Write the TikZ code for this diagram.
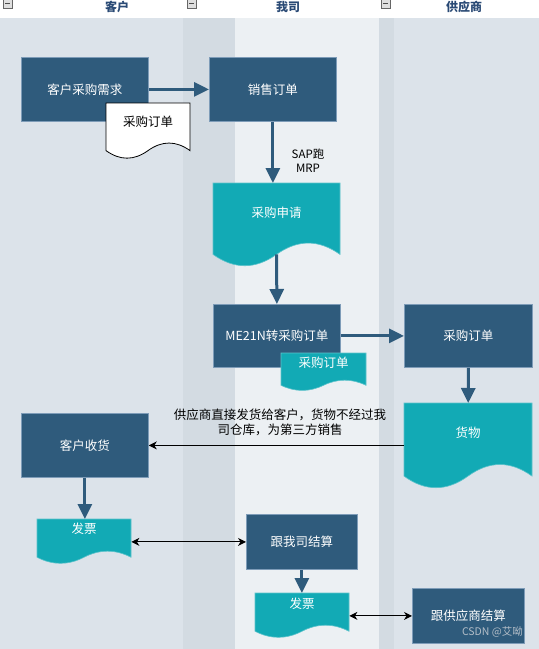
\documentclass[tikz,border=0pt]{standalone}
\usepackage{fontspec}
\setmainfont{Noto Sans CJK SC}
\usetikzlibrary{arrows.meta}
\definecolor{boxblue}{HTML}{2F5B7C}
\definecolor{boxedge}{HTML}{7E9CB8}
\definecolor{docteal}{HTML}{12AAB5}
\definecolor{tealedge}{HTML}{5CC3CB}
\definecolor{laneA}{HTML}{DCE3EA}
\definecolor{laneB}{HTML}{D3DBE2}
\definecolor{laneC}{HTML}{ECF0F3}
\definecolor{headtext}{HTML}{2A4A75}
\definecolor{wmgray}{HTML}{B4BEC8}
\tikzset{
  box/.style={draw=boxedge, fill=boxblue, line width=0.8pt, text=white, inner sep=0pt, anchor=north west, font=\fontsize{12.5}{15}\selectfont},
  docfill/.style={fill=docteal, draw=tealedge, line width=0.6pt},
  doctext/.style={text=white, inner sep=0pt, font=\fontsize{12.5}{15}\selectfont},
  lbl/.style={text=black, inner sep=0pt, align=center, font=\fontsize{12.5}{15}\selectfont},
  headlbl/.style={text=headtext, inner sep=0pt, font=\fontsize{12}{14}\selectfont\bfseries},
  flowarrow/.style={draw=boxblue, line width=3pt, -{Triangle[length=15pt,width=14pt]}},
  thinarrow/.style={draw=black, line width=1pt, -{Stealth[length=8pt,width=8pt,inset=2.5pt]}},
  dblarrow/.style={draw=black, line width=1pt, {Stealth[length=8pt,width=8pt,inset=2.5pt]}-{Stealth[length=8pt,width=8pt,inset=2.5pt]}},
}
\newcommand\docshape[6]{%
  \path[#6] (#2,#3) -- ({#2+#4},#3) -- ({#2+#4},{#3+#5-0.15*#5})
    .. controls ({#2+5*#4/6},{#3+#5-0.33*#5}) and ({#2+2*#4/3},{#3+#5-0.33*#5}) .. ({#2+#4/2},{#3+#5-0.15*#5})
    .. controls ({#2+#4/3},{#3+#5+0.03*#5}) and ({#2+#4/6},{#3+#5+0.03*#5}) .. (#2,{#3+#5-0.15*#5}) -- cycle;
  \node[inner sep=0pt, minimum width=#4, minimum height=#5, anchor=north west] (#1) at (#2,#3) {};
  \coordinate (#1b) at ({#2+#4/2},{#3+#5-0.15*#5});
}
\begin{document}
\begin{tikzpicture}[x=1pt,y=-1pt]
\useasboundingbox (0,0) rectangle (539,649);
% lanes
\fill[white] (0,0) rectangle (539,18);
\fill[laneA] (0,18) rectangle (183,649);
\fill[laneB] (183,18) rectangle (235,649);
\fill[laneC] (235,18) rectangle (379,649);
\fill[laneB] (379,18) rectangle (394,649);
\fill[laneA] (394,18) rectangle (539,649);
% header icons
\foreach \x in {3,187,381} {
  \draw[draw=gray!80!black, fill=gray!25, line width=0.6pt] (\x,-1) rectangle ({\x+9},8);
  \draw[black!70, line width=0.8pt] ({\x+2},3.5) -- ({\x+7},3.5);
}
\node[headlbl] (hA) at (117,6.5) {客户};
\node[headlbl] (hB) at (288,6.5) {我司};
\node[headlbl] (hC) at (464,6.5) {供应商};
% row 1
\node[box, minimum width=127, minimum height=64] (need) at (21,57) {客户采购需求};
\node[box, minimum width=127, minimum height=64] (so) at (209,57) {销售订单};
\docshape{poW}{106}{103}{84}{56}{fill=white, draw=black, line width=0.8pt}
\node[lbl] (poWt) at (148,122) {采购订单};
\docshape{pr}{213}{183}{127}{84}{docfill}
\node[doctext] (prt) at (276.5,213) {采购申请};
% row 2
\node[box, minimum width=127, minimum height=63] (me) at (213,304) {ME21N转采购订单};
\docshape{poT}{281}{353}{85}{38}{docfill}
\node[doctext] (poTt) at (323.5,363) {采购订单};
\node[box, minimum width=128, minimum height=63] (po) at (404,304) {采购订单};
\docshape{goods}{404}{403}{128}{86}{docfill}
\node[doctext] (goodst) at (468,433) {货物};
% row 3
\node[box, minimum width=127, minimum height=64] (kh) at (21,413) {客户收货};
\docshape{fpA}{37}{519}{94}{45}{docfill}
\node[doctext] (fpAt) at (84,529) {发票};
\node[box, minimum width=111, minimum height=55] (jsA) at (246,514) {跟我司结算};
\docshape{fpB}{255}{593}{94}{45}{docfill}
\node[doctext] (fpBt) at (302,604) {发票};
\node[box, minimum width=112, minimum height=55] (jsB) at (412,588) {跟供应商结算};
% labels
\node[lbl, font=\fontsize{11.5}{14}\selectfont] (sap) at (308,161) {SAP跑\\MRP};
\node[lbl] (note) at (280,422) {供应商直接发货给客户，货物不经过我\\司仓库，为第三方销售};
\node[anchor=east, inner sep=0pt, text=wmgray, font=\fontsize{10.5}{12}\selectfont] (wm) at (523,632) {CSDN @艾呦};
% connectors
\draw[flowarrow] (need) -- (so);
\draw[flowarrow] (so.south) -- (so.south |- pr.north);
\draw[flowarrow] (prb) -- (me.north);
\draw[flowarrow] (me) -- (po);
\draw[flowarrow] (po.south) -- (goods.north);
\draw[thinarrow] (goods.west |- kh.east) -- (kh.east);
\draw[flowarrow] (kh.south) -- (kh.south |- fpA.north);
\draw[dblarrow] (fpA.east |- jsA.west) -- (jsA.west);
\draw[flowarrow] (jsA.south) -- (jsA.south |- fpB.north);
\draw[dblarrow] (fpB.east |- jsB.west) -- (jsB.west);
\end{tikzpicture}
\end{document}
